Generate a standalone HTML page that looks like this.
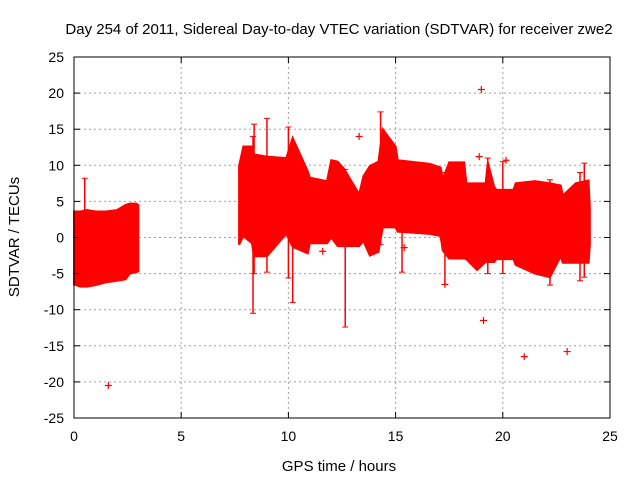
<!DOCTYPE html>
<html><head><meta charset="utf-8"><style>
body{margin:0;background:#fff}
svg{display:block;font-family:"Liberation Sans",sans-serif}
</style></head><body>
<svg id="c" width="640" height="480">
<text x="339" y="34" font-size="15" text-anchor="middle">Day 254 of 2011, Sidereal Day-to-day VTEC variation (SDTVAR) for receiver zwe2</text>
<text x="339" y="471" font-size="15" text-anchor="middle">GPS time / hours</text>
<text transform="translate(19,237) rotate(-90)" font-size="15" text-anchor="middle">SDTVAR / TECUs</text>
<g id="grid"></g><g id="data"></g><g id="axes"></g>
</svg>
<script>
const xTicks=[0,5,10,15,20,25];
const yTicks=[25,20,15,10,5,0,-5,-10,-15,-20,-25];
const seg1T=[0,0.3,0.6,1.0,1.5,2.0,2.4,2.6,2.9,3.0];
const seg1Up=[3.6,3.6,3.8,3.6,3.6,3.8,4.5,4.7,4.7,4.5];
const seg1Lo=[-6.5,-6.8,-6.8,-6.6,-6.2,-6,-5.8,-5,-4.8,-4.7];
const seg2T=[7.7,7.9,8.3,8.4,9.0,9.9,10.2,10.9,11.0,11.8,12.0,12.3,12.6,13.3,13.5,13.8,14.2,14.4,15.0,15.1,16.6,17.1,17.2,17.5,18.2,18.3,18.8,19.2,19.3,19.6,19.7,20.5,20.6,21.5,22.2,22.7,22.8,23.4,24.0,24.06];
const seg2Up=[9.9,12.6,12.6,11.5,11.2,11,13.8,9.2,8.3,7.8,10.7,10.5,9.5,6,8.5,9.9,10.5,15,12.6,10.7,10.2,9.7,8.1,10.4,10.4,7.5,7.5,7.5,10.4,7,6.6,6.6,7.5,7.8,7.5,7.2,5.8,7.5,7.9,4];
const seg2Lo=[-1,0.2,-0.8,-2.6,-2.6,0.5,-1.3,-2.2,-0.8,-0.8,0,-1.2,-1.2,-1.2,-0.5,-2.5,-2,1.4,1.4,0.8,0.5,0.2,-1.8,-2.9,-2.9,-3,-4.5,-3.4,-3.4,-3.4,-3,-3,-3.8,-5,-5.5,-2.6,-3.5,-3.5,-3.5,-1];
const spikeT=[0.5,8.35,8.4,9.0,10.0,10.2,12.65,14.3,15.3,17.3,19.3,22.2,23.8,23.6,20.0];
const spikeLo=[-1,-10.5,-5,-4.8,-5.6,-9,-12.4,-1,-4.8,-6.5,-5,-6.6,-5.5,-6,-5];
const spikeHi=[8.2,14,15.7,16.5,15.3,12,9.4,17.4,10,9,11,8,10.3,9,10.5];
const outT=[1.6,13.3,15.4,11.6,17.3,18.9,19.1,20.15,19.0,21.0,23.0];
const outV=[-20.5,14,-1.4,-1.9,-6.5,11.2,-11.5,10.7,20.5,-16.5,-15.8];
const L=74,R=610,T=57,B=418;
const X=v=>L+(v-0)/25*(R-L);
const Y=v=>T+(25-v)/50*(B-T);
const NS="http://www.w3.org/2000/svg";
function mk(parent,tag,attrs){const e=document.createElementNS(NS,tag);for(const k in attrs)e.setAttribute(k,attrs[k]);document.getElementById(parent).appendChild(e);return e;}
xTicks.forEach(v=>{
 if(v>0&&v<25){const g=mk('grid','line',{x1:X(v),x2:X(v),y1:T,y2:B,stroke:'#a0a0a0','stroke-dasharray':'2,3'});
 
 }
 const t=mk('axes','text',{x:X(v),y:B+23,'font-size':14,'text-anchor':'middle'});t.textContent=v;
 
 
 mk('axes','line',{x1:X(v),x2:X(v),y1:B,y2:B-6,stroke:'#000'});
 mk('axes','line',{x1:X(v),x2:X(v),y1:T,y2:T+6,stroke:'#000'});
});
yTicks.forEach(v=>{
 if(v>-25&&v<25){const g=mk('grid','line',{x1:L,x2:R,y1:Y(v),y2:Y(v),stroke:'#a0a0a0','stroke-dasharray':'2,3'});
 
 }
 const t=mk('axes','text',{x:L-10,y:Y(v)+5,'font-size':14,'text-anchor':'end'});t.textContent=v;
 
 
 mk('axes','line',{x1:L,x2:L+6,y1:Y(v),y2:Y(v),stroke:'#000'});
 mk('axes','line',{x1:R,x2:R-6,y1:Y(v),y2:Y(v),stroke:'#000'});
});
const fr=mk('axes','rect',{x:L,y:T,width:R-L,height:B-T,fill:'none',stroke:'#000'});


function band(ts,up,lo,name){
 let p=ts.map((t,i)=>X(t)+','+Y(up[i])).join(' ')+' '+ts.map((t,i)=>X(t)+','+Y(lo[i])).reverse().join(' ');
 const e=mk('data','polygon',{points:p,fill:'#ff0000',stroke:'#ff0000','stroke-width':2,'stroke-linejoin':'miter'});
 
 
}
band(seg1T,seg1Up,seg1Lo,'data-band-early');
band(seg2T,seg2Up,seg2Lo,'data-band-late');
spikeT.forEach((t,i)=>{
 const e=mk('data','line',{x1:X(t),x2:X(t),y1:Y(spikeLo[i]),y2:Y(spikeHi[i]),stroke:'#ff0000','stroke-width':1.5});
 
 
 [spikeLo[i],spikeHi[i]].forEach(v=>mk('data','line',{x1:X(t)-3,x2:X(t)+3,y1:Y(v),y2:Y(v),stroke:'#ff0000'}));
});
outT.forEach((t,i)=>{
 const g=mk('data','path',{d:`M${X(t)-3.5},${Y(outV[i])}h7M${X(t)},${Y(outV[i])-3.5}v7`,stroke:'#ff0000','stroke-width':1.2});
 
 
});
</script>
</body></html>
